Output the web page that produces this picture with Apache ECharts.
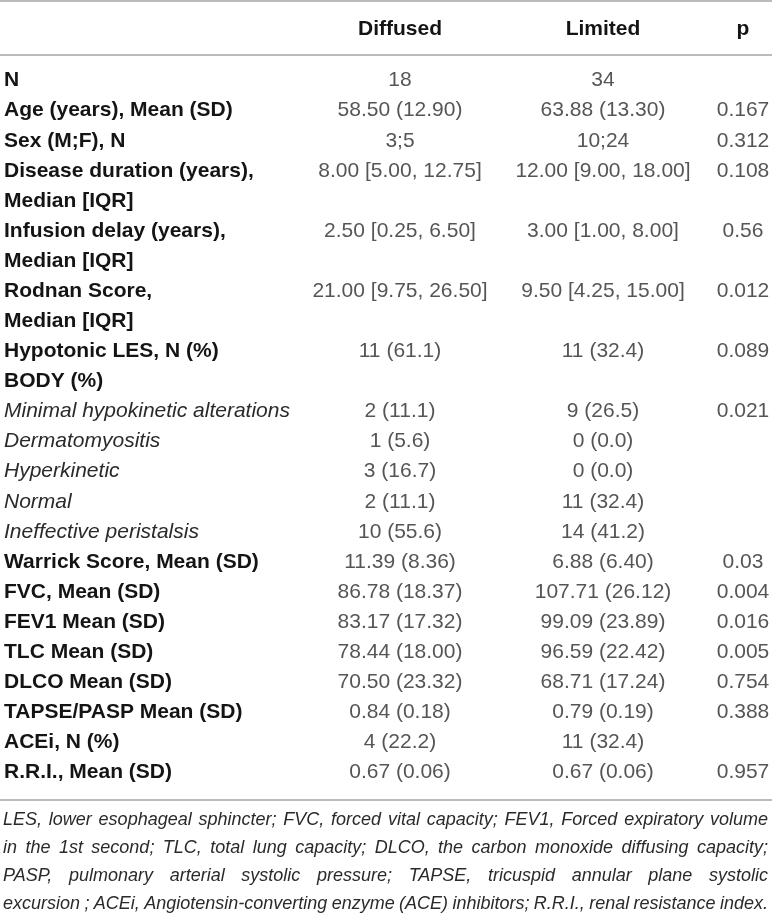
<!DOCTYPE html>
<html>
<head>
    <meta charset="utf-8">
    <title>Diffused vs Limited</title>
    <script src="https://cdn.jsdelivr.net/npm/echarts@6/dist/echarts.min.js"></script>
    <style>
        html, body { margin: 0; padding: 0; background: #fff; }
    </style>
</head>
<body>
<div id="main" style="width: 772px;height:919px;"></div>
<script type="text/javascript">
    // column headers
    var headers = ['Diffused', 'Limited', 'p'];

    // row labels, b = bold, i = italic
    var rowLabels = [
        'N', 'Age (years), Mean (SD)', 'Sex (M;F), N', 'Disease duration (years),', 'Median [IQR]',
        'Infusion delay (years),', 'Median [IQR]', 'Rodnan Score,', 'Median [IQR]', 'Hypotonic LES, N (%)',
        'BODY (%)', 'Minimal hypokinetic alterations', 'Dermatomyositis', 'Hyperkinetic', 'Normal',
        'Ineffective peristalsis', 'Warrick Score, Mean (SD)', 'FVC, Mean (SD)', 'FEV1 Mean (SD)', 'TLC Mean (SD)',
        'DLCO Mean (SD)', 'TAPSE/PASP Mean (SD)', 'ACEi, N (%)', 'R.R.I., Mean (SD)'
    ];
    var rowStyle = [
        'b', 'b', 'b', 'b', 'b',
        'b', 'b', 'b', 'b', 'b',
        'b', 'i', 'i', 'i', 'i',
        'i', 'b', 'b', 'b', 'b',
        'b', 'b', 'b', 'b'
    ];

    var diffused = [
        '18', '58.50 (12.90)', '3;5', '8.00 [5.00, 12.75]', '',
        '2.50 [0.25, 6.50]', '', '21.00 [9.75, 26.50]', '', '11 (61.1)',
        '', '2 (11.1)', '1 (5.6)', '3 (16.7)', '2 (11.1)',
        '10 (55.6)', '11.39 (8.36)', '86.78 (18.37)', '83.17 (17.32)', '78.44 (18.00)',
        '70.50 (23.32)', '0.84 (0.18)', '4 (22.2)', '0.67 (0.06)'
    ];
    var limited = [
        '34', '63.88 (13.30)', '10;24', '12.00 [9.00, 18.00]', '',
        '3.00 [1.00, 8.00]', '', '9.50 [4.25, 15.00]', '', '11 (32.4)',
        '', '9 (26.5)', '0 (0.0)', '0 (0.0)', '11 (32.4)',
        '14 (41.2)', '6.88 (6.40)', '107.71 (26.12)', '99.09 (23.89)', '96.59 (22.42)',
        '68.71 (17.24)', '0.79 (0.19)', '11 (32.4)', '0.67 (0.06)'
    ];
    var pValues = [
        '', '0.167', '0.312', '0.108', '',
        '0.56', '', '0.012', '', '0.089',
        '', '0.021', '', '', '',
        '', '0.03', '0.004', '0.016', '0.005',
        '0.754', '0.388', '', '0.957'
    ];

    var footnote = [
        'LES, lower esophageal sphincter; FVC, forced vital capacity; FEV1, Forced expiratory volume',
        'in the 1st second; TLC, total lung capacity; DLCO, the carbon monoxide diffusing capacity;',
        'PASP, pulmonary arterial systolic pressure; TAPSE, tricuspid annular plane systolic',
        'excursion ; ACEi, Angiotensin-converting enzyme (ACE) inhibitors; R.R.I., renal resistance index.'
    ];

    var FONT = '"Liberation Sans", Arial, sans-serif';
    var LINE = '#a4a4a4';
    var rowIdx = rowLabels.map(function (r, i) { return i; });

    // table body area and column spans (layout only)
    var bodyTop = 65.5, bodyH = 722;
    var colSpans = [[300, 500], [503, 703], [714, 772]];
    var colData = [diffused, limited, pValues];

    var grids = [], xAxes = [], yAxes = [], series = [];

    // grid 0: row labels
    grids.push({left: 0, width: 300, top: bodyTop, height: bodyH});
    xAxes.push({gridIndex: 0, type: 'value', show: false, min: 0, max: 1});
    yAxes.push({
        gridIndex: 0, type: 'category', inverse: true, data: rowLabels,
        axisLine: {show: false}, axisTick: {show: false}, splitLine: {show: false},
        axisLabel: {
            inside: true, margin: 4, align: 'left',
            formatter: function (v, i) { return '{' + rowStyle[i] + '|' + v + '}'; },
            rich: {
                b: {fontFamily: FONT, fontSize: 21, fontWeight: 'bold', color: '#141414'},
                i: {fontFamily: FONT, fontSize: 21, fontStyle: 'italic', color: '#2a2a2a'}
            }
        }
    });

    // grids 1..3: value columns, header as top axis label
    colSpans.forEach(function (span, c) {
        var g = c + 1;
        grids.push({left: span[0], width: span[1] - span[0], top: bodyTop, height: bodyH});
        xAxes.push({
            gridIndex: g, type: 'category', position: 'top', data: [headers[c]],
            axisLine: {show: false}, axisTick: {show: false}, splitLine: {show: false},
            axisLabel: {margin: 25.5, fontFamily: FONT, fontSize: 21, fontWeight: 'bold', color: '#141414'}
        });
        yAxes.push({gridIndex: g, type: 'category', inverse: true, data: rowIdx, show: false});
        series.push({
            type: 'scatter', xAxisIndex: g, yAxisIndex: g,
            symbolSize: 1, itemStyle: {color: 'transparent'},
            silent: true,
            data: colData[c].map(function (v, i) { return {value: [0, i], name: v}; }),
            label: {
                show: true, position: 'inside', formatter: '{b}',
                fontFamily: FONT, fontSize: 21, color: '#2a2a2a'
            }
        });
    });

    // rules of the table: top + header line, then bottom line
    var ruleGrids = [[1, 54, ['top', 'bottom']], [55, 745, ['bottom']]];
    ruleGrids.forEach(function (r) {
        grids.push({left: 0, right: 0, top: r[0], height: r[1]});
        var gi = grids.length - 1;
        yAxes.push({gridIndex: gi, type: 'value', show: false, min: 0, max: 1});
        r[2].forEach(function (pos) {
            xAxes.push({
                gridIndex: gi, type: 'value', position: pos,
                axisLine: {show: true, onZero: false, lineStyle: {color: LINE, width: 1.5}},
                axisTick: {show: false}, axisLabel: {show: false}, splitLine: {show: false}
            });
        });
    });

    // justify footnote lines by giving each word gap a fixed width
    var NOTE_SIZE = 18, NOTE_W = 765;
    var ctx = document.createElement('canvas').getContext('2d');
    ctx.font = 'italic ' + NOTE_SIZE + 'px ' + FONT;
    var noteRich = {};
    var noteText = footnote.map(function (line, k) {
        var words = line.split(' ');
        var wsum = 0;
        words.forEach(function (w) { wsum += ctx.measureText(w).width; });
        var gap = Math.max(2, (NOTE_W - wsum) / (words.length - 1));
        noteRich['g' + k] = {width: gap, fontSize: NOTE_SIZE, lineHeight: 28};
        return words.join('{g' + k + '| }');
    }).join('\n');

    var myChart = echarts.init(document.getElementById('main'));
    var option = {
        animation: false,
        backgroundColor: '#fff',
        title: {
            left: 3, top: 806, padding: 0,
            text: noteText,
            textStyle: {
                fontFamily: FONT, fontSize: NOTE_SIZE, fontStyle: 'italic', fontWeight: 'normal',
                color: '#2a2a2a', lineHeight: 28, rich: noteRich
            }
        },
        grid: grids,
        xAxis: xAxes,
        yAxis: yAxes,
        series: series
    };
    myChart.setOption(option);
</script>
</body>
</html>
